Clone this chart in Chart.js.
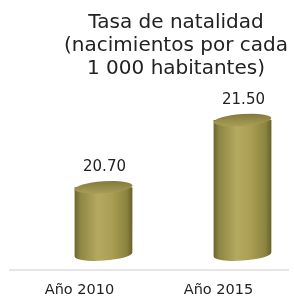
<!DOCTYPE html>
<html>
<head>
<meta charset="utf-8">
<script src="https://cdn.jsdelivr.net/npm/chart.js@4.4.1/dist/chart.umd.min.js"></script>
<style>
  html, body { margin: 0; padding: 0; background: #ffffff; }
  #holder { width: 294px; height: 307px; }
</style>
</head>
<body>
<div id="holder"><canvas id="chart"></canvas></div>
<script>
const titleLines = ['Tasa de natalidad', '(nacimientos por cada', '1 000 habitantes)']
const years = ['Año 2010', 'Año 2015']
const birthRates = [20.70, 21.50]

const FONT = '"DejaVu Sans", sans-serif'
const TEXT_COLOR = '#222222'

// the cylinders sit a little behind the front plane, like a 3d chart
const DEPTH_X = 24
const DEPTH_Y = -15
const CAP_RY = 6
const TILT = -0.07

function bodyGradient(ctx, left, right){
    var g = ctx.createLinearGradient(left, 0, right, 0)
    g.addColorStop(0, '#6c652e')
    g.addColorStop(0.1, '#8e8644')
    g.addColorStop(0.4, '#b4a960')
    g.addColorStop(0.65, '#a99e52')
    g.addColorStop(0.9, '#8b833f')
    g.addColorStop(1, '#68612b')
    return g
}

const cylinderPlugin = {
    id: 'cylinders',
    afterDatasetsDraw(chart){
        const ctx = chart.ctx
        const meta = chart.getDatasetMeta(0)
        const yScale = chart.scales.y
        const basePx = yScale.getPixelForValue(yScale.min)
        ctx.save()
        meta.data.forEach(function(bar, i){
            const cx = bar.x + DEPTH_X
            const rx = bar.width / 2
            const topY = bar.y + DEPTH_Y
            const botY = basePx + DEPTH_Y
            const left = cx - rx
            const right = cx + rx

            // body with the rounded bottom
            ctx.beginPath()
            ctx.moveTo(left, topY)
            ctx.lineTo(left, botY)
            ctx.ellipse(cx, botY, rx, CAP_RY, TILT, Math.PI, 0, true)
            ctx.lineTo(right, topY)
            ctx.closePath()
            ctx.fillStyle = bodyGradient(ctx, left, right)
            ctx.fill()

            // top cap
            ctx.beginPath()
            ctx.ellipse(cx, topY, rx, CAP_RY, TILT, 0, Math.PI * 2)
            var cap = ctx.createLinearGradient(0, topY - CAP_RY, 0, topY + CAP_RY)
            cap.addColorStop(0, '#837b3d')
            cap.addColorStop(1, '#a79d56')
            ctx.fillStyle = cap
            ctx.fill()

            // value above the cylinder
            ctx.fillStyle = TEXT_COLOR
            ctx.font = '15px ' + FONT
            ctx.textAlign = 'center'
            ctx.textBaseline = 'middle'
            ctx.fillText(birthRates[i].toFixed(2), cx + 1, topY - CAP_RY - 14)
        })
        ctx.restore()
    }
}

const titlePlugin = {
    id: 'titleBlock',
    afterDraw(chart){
        const ctx = chart.ctx
        ctx.save()
        ctx.fillStyle = TEXT_COLOR
        ctx.font = '20px ' + FONT
        ctx.textAlign = 'center'
        ctx.textBaseline = 'alphabetic'
        for (var i = 0; i < titleLines.length; i++){
            ctx.fillText(titleLines[i], 176, 28 + i * 23)
        }
        ctx.restore()
    }
}

new Chart(document.getElementById('chart'), {
    type: 'bar',
    data: {
        labels: years,
        datasets: [{
            data: birthRates,
            backgroundColor: 'rgba(0, 0, 0, 0)',
            borderWidth: 0,
            categoryPercentage: 0.8,
            barPercentage: 0.52
        }]
    },
    options: {
        responsive: true,
        maintainAspectRatio: false,
        animation: false,
        layout: {
            padding: { left: 10, right: 6, top: 93, bottom: -4 }
        },
        scales: {
            x: {
                grid: { display: false, drawTicks: false, tickLength: 0 },
                border: { display: true, color: '#e6e6e6', width: 2 },
                ticks: {
                    color: TEXT_COLOR,
                    font: { family: FONT, size: 14.5 },
                    padding: 12
                }
            },
            y: {
                display: false,
                min: 19.9,
                max: 22.0
            }
        },
        plugins: {
            legend: { display: false },
            title: { display: false },
            tooltip: { enabled: false }
        }
    },
    plugins: [cylinderPlugin, titlePlugin]
})
</script>
</body>
</html>
